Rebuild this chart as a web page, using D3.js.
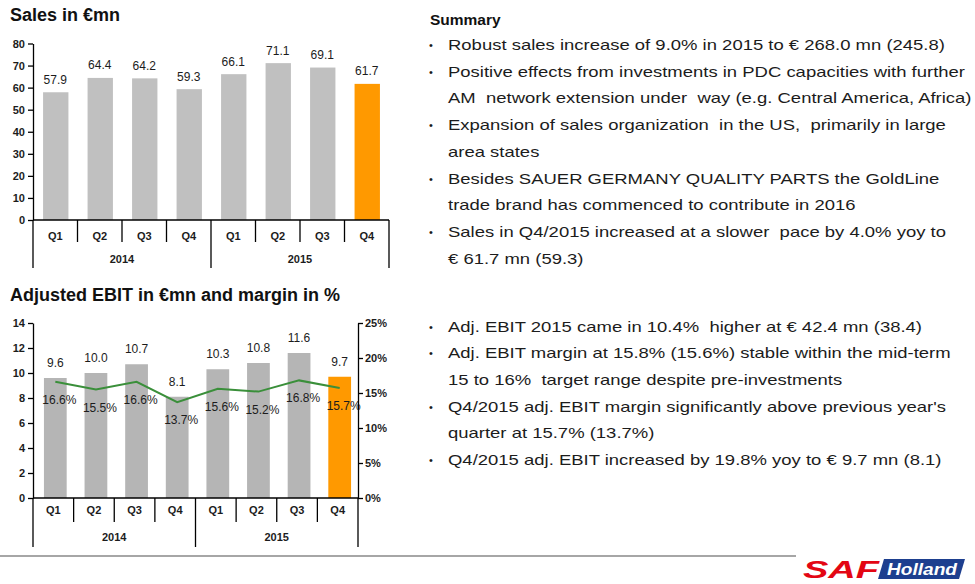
<!DOCTYPE html>
<html><head><meta charset="utf-8">
<script src="https://cdn.jsdelivr.net/npm/d3@7"></script>
<style>
html,body{margin:0;padding:0;background:#fff;}
svg{display:block;font-family:"Liberation Sans",Arial,sans-serif;}
</style></head>
<body>
<svg id="c" width="975" height="584"></svg>
<script>
// ---------- data ----------
const quarters = ["Q1","Q2","Q3","Q4","Q1","Q2","Q3","Q4"];
const years = ["2014","2015"];
const sales = [57.9, 64.4, 64.2, 59.3, 66.1, 71.1, 69.1, 61.7];
const ebit = [9.6, 10.0, 10.7, 8.1, 10.3, 10.8, 11.6, 9.7];
const margin = [16.6, 15.5, 16.6, 13.7, 15.6, 15.2, 16.8, 15.7];
const salesTicks = [0, 10, 20, 30, 40, 50, 60, 70, 80];
const ebitTicks = [0, 2, 4, 6, 8, 10, 12, 14];
const marginTicks = [0, 5, 10, 15, 20, 25];
const highlightIndex = 7;

const summaryTitle = "Summary";
const salesBullets = [
  ["Robust sales increase of 9.0% in 2015 to € 268.0 mn (245.8)"],
  ["Positive effects from investments in PDC capacities with further", "AM  network extension under  way (e.g. Central America, Africa)"],
  ["Expansion of sales organization  in the US,  primarily in large", "area states"],
  ["Besides SAUER GERMANY QUALITY PARTS the GoldLine", "trade brand has commenced to contribute in 2016"],
  ["Sales in Q4/2015 increased at a slower  pace by 4.0% yoy to", "€ 61.7 mn (59.3)"]
];
const ebitBullets = [
  ["Adj. EBIT 2015 came in 10.4%  higher at € 42.4 mn (38.4)"],
  ["Adj. EBIT margin at 15.8% (15.6%) stable within the mid-term", "15 to 16%  target range despite pre-investments"],
  ["Q4/2015 adj. EBIT margin significantly above previous year's", "quarter at 15.7% (13.7%)"],
  ["Q4/2015 adj. EBIT increased by 19.8% yoy to € 9.7 mn (8.1)"]
];

// ---------- drawing ----------
const svg = d3.select("#c");
const GREY1 = "#c0c0c0", GREY2 = "#b5b5b5", ORANGE = "#ff9900", GREEN = "#3a8f3a", TXT = "#1c1c1c";
const idx = d3.range(quarters.length);

function catAxis(g, x, y0, qDepth, yDepth, qLabelY, yLabelY) {
  const [x0, x1] = x.range();
  g.append("line").attr("x1", x0).attr("x2", x1).attr("y1", y0).attr("y2", y0)
    .attr("stroke", "#000").attr("stroke-width", 1.3);
  idx.concat([quarters.length]).forEach(i => {
    const xx = i < quarters.length ? x(i) : x1;
    const isYear = i % 4 === 0;
    g.append("line").attr("x1", xx).attr("x2", xx).attr("y1", y0)
      .attr("y2", y0 + (isYear ? yDepth : qDepth)).attr("stroke", "#000").attr("stroke-width", 1.3);
  });
  g.selectAll(".ql").data(idx).join("text")
    .attr("x", i => x(i) + x.bandwidth() / 2).attr("y", qLabelY)
    .attr("text-anchor", "middle").attr("font-size", 11).attr("font-weight", "bold").attr("fill", TXT)
    .text(i => quarters[i]);
  g.selectAll(".yl").data(years).join("text")
    .attr("x", (d, j) => (x(j * 4) + (j === years.length - 1 ? x1 : x(j * 4 + 4))) / 2)
    .attr("y", yLabelY).attr("text-anchor", "middle").attr("font-size", 11).attr("font-weight", "bold")
    .attr("fill", TXT).text(d => d);
}

function styleAxis(g) {
  g.selectAll("path.domain").attr("stroke", "#000").attr("stroke-width", 1.3);
  g.selectAll(".tick line").attr("stroke", "#000").attr("stroke-width", 1.3);
  g.selectAll(".tick text").attr("font-size", 11).attr("font-weight", "bold").attr("fill", TXT)
    .attr("font-family", "Liberation Sans, Arial, sans-serif");
}

// ---- Sales chart ----
svg.append("text").attr("x", 10).attr("y", 21).attr("font-size", 18).attr("font-weight", "bold")
  .attr("fill", "#111").text("Sales in €mn");

const xS = d3.scaleBand().domain(idx).range([33, 389]).padding(0);
const yS = d3.scaleLinear().domain([0, 80]).range([220, 43.5]);
const gS = svg.append("g");
const bwS = xS.bandwidth() * 0.57;
gS.selectAll("rect").data(idx).join("rect")
  .attr("x", i => xS(i) + (xS.bandwidth() - bwS) / 2 + 0.5)
  .attr("y", i => yS(sales[i])).attr("width", bwS).attr("height", i => yS(0) - yS(sales[i]))
  .attr("fill", i => i === highlightIndex ? ORANGE : GREY1);
gS.selectAll("text.v").data(idx).join("text").attr("class", "v")
  .attr("x", i => xS(i) + xS.bandwidth() / 2).attr("y", i => yS(sales[i]) - 8.5)
  .attr("text-anchor", "middle").attr("font-size", 12).attr("fill", TXT)
  .text(i => d3.format(".1f")(sales[i]));
const axS = svg.append("g").attr("transform", "translate(33,0)")
  .call(d3.axisLeft(yS).tickValues(salesTicks).tickSize(5).tickPadding(3).tickSizeOuter(0));
styleAxis(axS);
catAxis(svg.append("g"), xS, 220, 22, 48, 240, 263);

// ---- EBIT chart ----
svg.append("text").attr("x", 10).attr("y", 301).attr("font-size", 18).attr("font-weight", "bold")
  .attr("fill", "#111").text("Adjusted EBIT in €mn and margin in %");

const xE = d3.scaleBand().domain(idx).range([33, 358]).padding(0);
const yE = d3.scaleLinear().domain([0, 14]).range([498, 323]);
const yM = d3.scaleLinear().domain([0, 25]).range([498, 323]);
const gE = svg.append("g");
const bwE = xE.bandwidth() * 0.56;
gE.selectAll("rect").data(idx).join("rect")
  .attr("x", i => xE(i) + (xE.bandwidth() - bwE) / 2 + 2)
  .attr("y", i => yE(ebit[i])).attr("width", bwE).attr("height", i => yE(0) - yE(ebit[i]))
  .attr("fill", i => i === highlightIndex ? ORANGE : GREY2);
gE.selectAll("text.v").data(idx).join("text").attr("class", "v")
  .attr("x", i => xE(i) + xE.bandwidth() / 2 + 2).attr("y", i => yE(ebit[i]) - 11)
  .attr("text-anchor", "middle").attr("font-size", 12).attr("fill", TXT)
  .text(i => d3.format(".1f")(ebit[i]));
const line = d3.line().x(i => xE(i) + xE.bandwidth() / 2 + 2).y(i => yM(margin[i]));
gE.append("path").datum(idx).attr("d", line).attr("fill", "none")
  .attr("stroke", GREEN).attr("stroke-width", 2);
gE.selectAll("text.m").data(idx).join("text").attr("class", "m")
  .attr("x", i => xE(i) + xE.bandwidth() / 2 + 6).attr("y", i => yM(margin[i]) + 22)
  .attr("text-anchor", "middle").attr("font-size", 12).attr("fill", TXT)
  .text(i => d3.format(".1f")(margin[i]) + "%");
const axE = svg.append("g").attr("transform", "translate(33,0)")
  .call(d3.axisLeft(yE).tickValues(ebitTicks).tickSize(5).tickPadding(3).tickSizeOuter(0));
styleAxis(axE);
const axM = svg.append("g").attr("transform", "translate(358,0)")
  .call(d3.axisRight(yM).tickValues(marginTicks).tickSize(5).tickPadding(2).tickSizeOuter(0)
    .tickFormat(d => d + "%"));
styleAxis(axM);
catAxis(svg.append("g"), xE, 498, 24, 49, 514, 541);

// ---- Text blocks ----
svg.append("text").attr("x", 430).attr("y", 25).attr("font-size", 15.5).attr("font-weight", "bold")
  .attr("fill", "#111").text(summaryTitle);

function bulletBlock(items, y0, step) {
  let line = 0;
  const g = svg.append("g");
  items.forEach(lines => {
    lines.forEach((t, k) => {
      const y = y0 + line * step;
      if (k === 0) g.append("text").attr("x", 429).attr("y", y - 1).attr("font-size", 11)
        .attr("fill", TXT).text("•");
      g.append("text").attr("transform", `translate(448,${y}) scale(1.2,1)`)
        .attr("font-size", 15.4).attr("fill", TXT)
        .attr("xml:space", "preserve").style("white-space", "pre").text(t);
      line++;
    });
  });
}
bulletBlock(salesBullets, 50, 26.7);
bulletBlock(ebitBullets, 331.5, 26.7);

// ---- footer ----
svg.append("line").attr("x1", 0).attr("x2", 796).attr("y1", 556).attr("y2", 556)
  .attr("stroke", "#a6a6a6").attr("stroke-width", 2);
const logo = svg.append("g");
logo.append("path").attr("d", "M884,559 L965,559 L959,579 L878,579 Z").attr("fill", "#1d3f8f");
logo.append("text").attr("x", 803).attr("y", 578).attr("font-size", 24).attr("font-weight", "bold")
  .attr("font-style", "italic").attr("fill", "#e30613")
  .attr("textLength", 76).attr("lengthAdjust", "spacingAndGlyphs").text("SAF");
logo.append("text").attr("x", 887).attr("y", 575).attr("font-size", 17).attr("font-weight", "bold")
  .attr("font-style", "italic").attr("fill", "#fff")
  .attr("textLength", 70).attr("lengthAdjust", "spacingAndGlyphs").text("Holland");
</script>
</body></html>
